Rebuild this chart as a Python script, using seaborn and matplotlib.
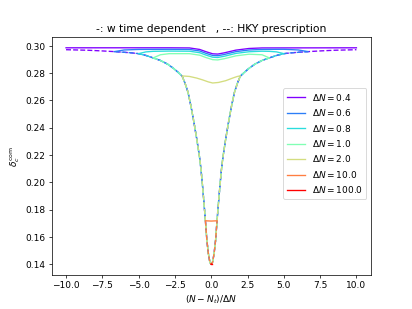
import numpy as np
import pandas as pd
import matplotlib
matplotlib.use("Agg")
import matplotlib.pyplot as plt
import seaborn as sns

# Delta N values and the half-width of each curve in (N - N_t)/Delta N
delta_n = [0.4, 0.6, 0.8, 1.0, 2.0, 10.0, 100.0]
x_extent = [10.0, 6.67, 5.0, 4.0, 2.0, 0.4, 0.04]

# HKY prescription (dashed)
hky_x = [-10, -8.5, -7.5, -6.67, -6.0, -5.5, -5.0, -4.5, -4.0, -3.5, -3.0, -2.6, -2.3,
         -2.0, -1.8, -1.6, -1.4, -1.2, -1.0, -0.9, -0.8, -0.7, -0.6, -0.5, -0.4, -0.3,
         -0.2, -0.1, -0.04, 0.0, 0.04, 0.1, 0.2, 0.3, 0.4, 0.5, 0.6, 0.7, 0.8, 0.9, 1.0,
         1.2, 1.4, 1.6, 1.8, 2.0, 2.3, 2.6, 3.0, 3.5, 4.0, 4.5, 5.0, 5.5, 6.0, 6.67, 7.5,
         8.5, 10]
hky_y = [0.2972, 0.2968, 0.2963, 0.2958, 0.2953, 0.2949, 0.2943, 0.2930, 0.2912, 0.2893,
         0.2866, 0.2835, 0.2808, 0.2778, 0.2725, 0.2660, 0.2560, 0.2445, 0.2320, 0.2250,
         0.2180, 0.2090, 0.1975, 0.1850, 0.1718, 0.1575, 0.1480, 0.1418, 0.1403, 0.1400,
         0.1403, 0.1418, 0.1480, 0.1575, 0.1718, 0.1850, 0.1975, 0.2090, 0.2180, 0.2250,
         0.2320, 0.2445, 0.2560, 0.2660, 0.2725, 0.2778, 0.2808, 0.2835, 0.2866, 0.2893,
         0.2912, 0.2930, 0.2943, 0.2949, 0.2953, 0.2958, 0.2963, 0.2968, 0.2972]

# w time dependent (solid)
w_x_04 = [-10, -2.9, -1.5, -0.8, -0.35, 0.1, 0.45, 0.9, 1.7, 2.6, 3.5, 10]
w_y_04 = [0.2986, 0.2986, 0.2985, 0.2974, 0.2957, 0.2942, 0.2940, 0.2949, 0.2969, 0.2981,
          0.2985, 0.2986]
w_x_06 = [-6.67, -6.0, -5.0, -2.9, -1.5, -0.8, -0.35, 0.1, 0.45, 0.9, 1.7, 2.6, 3.5, 5.0,
          6.0, 6.67]
w_y_06 = [0.2958, 0.2970, 0.2974, 0.2975, 0.2974, 0.2963, 0.2945, 0.2930, 0.2928, 0.2937,
          0.2958, 0.2970, 0.2974, 0.2975, 0.2970, 0.2958]
w_x_08 = [-5.0, -4.5, -4.0, -2.9, -1.5, -0.8, -0.35, 0.1, 0.45, 0.9, 1.7, 2.6, 3.5, 4.0,
          4.5, 5.0]
w_y_08 = [0.2943, 0.2956, 0.2960, 0.2962, 0.2961, 0.2950, 0.2932, 0.2917, 0.2915, 0.2924,
          0.2945, 0.2957, 0.2961, 0.2960, 0.2956, 0.2943]
w_x_10 = [-4.0, -3.5, -2.9, -1.5, -0.8, -0.35, 0.1, 0.45, 0.9, 1.7, 2.6, 3.5, 4.0]
w_y_10 = [0.2912, 0.2935, 0.2943, 0.2943, 0.2932, 0.2914, 0.2899, 0.2897, 0.2906, 0.2927,
          0.2939, 0.2935, 0.2912]
w_x_20 = [-2.0, -1.5, -1.0, -0.6, -0.2, 0.1, 0.5, 1.0, 1.5, 1.8, 2.0]
w_y_20 = [0.2780, 0.2776, 0.2764, 0.2751, 0.2736, 0.2728, 0.2732, 0.2745, 0.2765, 0.2776,
          0.2780]
w_x_100 = [-0.4, 0.0, 0.4]
w_y_100 = [0.1718, 0.1716, 0.1718]
w_x_1000 = [-0.04, 0.04]
w_y_1000 = [0.1401, 0.1401]

w_x = [w_x_04, w_x_06, w_x_08, w_x_10, w_x_20, w_x_100, w_x_1000]
w_y = [w_y_04, w_y_06, w_y_08, w_y_10, w_y_20, w_y_100, w_y_1000]

fig, ax = plt.subplots(figsize=(6.4, 4.8), dpi=64.4)
colors = plt.cm.rainbow(np.linspace(0, 1, len(delta_n)))

hky = pd.DataFrame({"x": hky_x, "y": hky_y})
for i, dn in enumerate(delta_n):
    df_w = pd.DataFrame({"x": w_x[i], "y": w_y[i]})
    sns.lineplot(data=df_w, x="x", y="y", ax=ax, color=colors[i], estimator=None,
                 sort=False, label=r"$\Delta N = %s$" % dn, linewidth=1.5)
    ext = x_extent[i]
    sub = hky[(hky["x"] >= -ext - 1e-9) & (hky["x"] <= ext + 1e-9)]
    sns.lineplot(data=sub, x="x", y="y", ax=ax, color=colors[i], estimator=None,
                 sort=False, linestyle="--", linewidth=1.5)

ax.set_title("-: w time dependent   , --: HKY prescription")
ax.set_xlabel(r"$(N-N_t)/\Delta N$")
ax.set_ylabel(r"$\delta_c^{\rm com}$")
ax.legend(loc="center right", bbox_to_anchor=(1.0, 0.553))
fig.savefig("out.png", dpi=64.4)
